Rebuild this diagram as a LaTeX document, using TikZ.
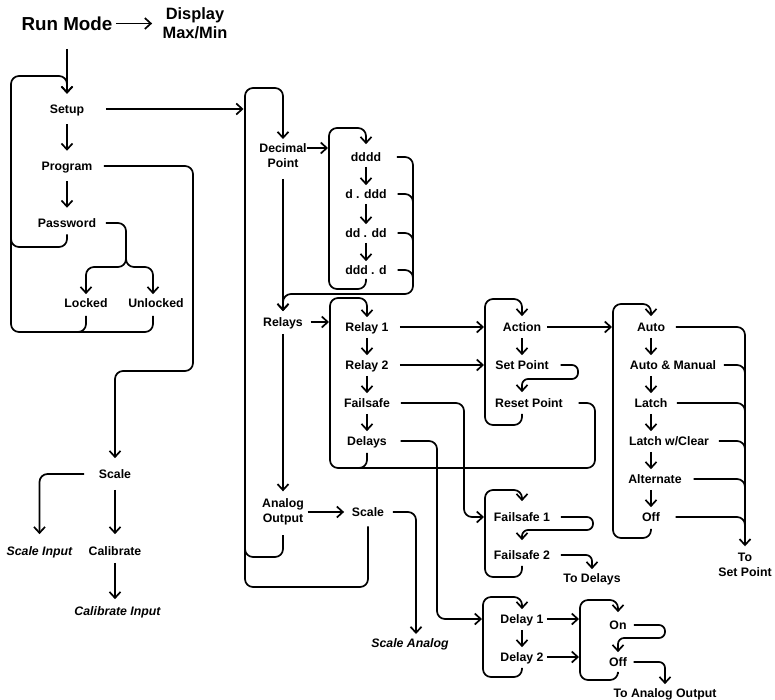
\documentclass[tikz,border=0pt]{standalone}
\usepackage{fontspec}
\setmainfont{Liberation Sans}
\usetikzlibrary{arrows.meta}
\begin{document}
\begin{tikzpicture}[x=1pt,y=-1pt,
  line width=1.7pt,
  rc/.style={rounded corners=8pt},
  rs/.style={rounded corners=6pt},
  arr/.style={-{Straight Barb[length=6pt,width=11pt]}},
  lb/.style={font=\fontsize{12.3}{15}\selectfont\bfseries, inner sep=0pt, text height=8.8pt, text depth=0pt},
  lbb/.style={font=\fontsize{12.3}{15}\selectfont\bfseries, inner sep=0pt, align=center},
  it/.style={font=\fontsize{12.3}{15}\selectfont\bfseries\itshape, inner sep=0pt, text height=8.8pt, text depth=0pt}]
\useasboundingbox (0,0) rectangle (775,699);

% box edge coordinates
\coordinate (bigL) at (245,88);
\coordinate (dpA) at (329,148);
\coordinate (rlL) at (330,298);
\coordinate (acL) at (485,299);
\coordinate (auL) at (613,304);
\coordinate (fsL) at (485,490);
\coordinate (dyL) at (483,597);
\coordinate (ooL) at (580,600);
\coordinate (saTip) at (416,634);

% nodes
\node[font=\fontsize{18.8}{20}\selectfont\bfseries, inner sep=0pt, text height=13.5pt, text depth=0pt] (run) at (67,23.5) {Run Mode};
\node[font=\fontsize{16.4}{19}\selectfont\bfseries, inner sep=0pt, align=center] (disp) at (195,23.5) {Display\\Max/Min};
\node[lb] (setup) at (67,109) {Setup};
\node[lb] (program) at (67,166) {Program};
\node[lb] (password) at (67,223) {Password};
\node[lb] (locked) at (86,303) {Locked};
\node[lb] (unlocked) at (156,303) {Unlocked};
\node[lb] (scale1) at (115,474) {Scale};
\node[it] (scalein) at (39.5,551) {Scale Input};
\node[lb] (calib) at (115,551) {Calibrate};
\node[it] (calibin) at (117.5,611) {Calibrate Input};
\node[lbb] (decpt) at (283,155.5) {Decimal\\Point};
\node[lb] (f1) at (366,157) {dddd};
\node[lb] (f2) at (366,194) {d . ddd};
\node[lb] (f3) at (366,233) {dd . dd};
\node[lb] (f4) at (366,270) {ddd . d};
\node[lb] (relays) at (283,322) {Relays};
\node[lb] (relay1) at (367,327) {Relay 1};
\node[lb] (relay2) at (367,365) {Relay 2};
\node[lb] (failsafe) at (367,403) {Failsafe};
\node[lb] (delays) at (367,441) {Delays};
\node[lbb] (aout) at (283,512) {Analog\\Output};
\node[lb] (scale2) at (368,512) {Scale};
\node[it] (scalean) at (410,643) {Scale Analog};
\node[lb] (action) at (522,327) {Action};
\node[lb] (setpt) at (522,365) {Set Point};
\node[lb] (resetpt) at (529,403) {Reset Point};
\node[lb] (auto) at (651,327) {Auto};
\node[lb] (automan) at (673,365) {Auto \& Manual};
\node[lb] (latch) at (651,403) {Latch};
\node[lb] (latchwc) at (669,441) {Latch w/Clear};
\node[lb] (altern) at (655,479) {Alternate};
\node[lb] (off1) at (651,517) {Off};
\node[lbb] (toset) at (745,564.5) {To\\Set Point};
\node[lb] (fs1) at (522,517) {Failsafe 1};
\node[lb] (fs2) at (522,555) {Failsafe 2};
\node[lb] (todelays) at (592,578) {To Delays};
\node[lb] (delay1) at (522,619) {Delay 1};
\node[lb] (delay2) at (522,657) {Delay 2};
\node[lb] (on) at (618,625) {On};
\node[lb] (off2) at (618,662) {Off};
\node[lb] (toaout) at (665,693) {To Analog Output};

% top
\draw[arr, shorten <=2.6pt, shorten >=9.7pt] (run.east) -- (disp.west);
\draw[arr, shorten <=17.7pt, shorten >=10pt] (run.south) -- (setup.north);
\draw[arr, shorten <=10pt, shorten >=10pt] (setup.south) -- (program.north);
\draw[arr, shorten <=10pt, shorten >=10pt] (program.south) -- (password.north);
\draw[arr, rc, shorten <=6pt, shorten >=10pt] (password.south) -- (67,247) -- (11,247) -- (11,76) -- (67,76) -- (setup.north);
\draw[arr, rc, shorten >=3.6pt] (password.east) ++(9,0) -- (126,223) -- (126,267) -- (86,267) -- (locked.north);
\draw[arr, rc, shorten >=3.6pt] (126,245) -- (126,267) -- (153,267) -- ([xshift=-3pt]unlocked.north);
\draw[rc] ([xshift=-3pt]unlocked.south) ++(0,7.6) -- (153,332) -- (11,332) -- (11,236);
\draw[rc] (locked.south) ++(0,7.6) -- (86,332) -- (70,332);

% program -> scale
\draw[arr, rc, shorten >=10.6pt] (program.east) ++(10.7,0) -- (193,166) -- (193,371) -- (115,371) -- (scale1.north);
\draw[arr, rc, shorten >=11.6pt] (scale1.west) ++(-14,0) -- (39.5,474) -- (scalein.north);
\draw[arr, shorten <=10.6pt, shorten >=11.6pt] (scale1.south) -- (calib.north);
\draw[arr, shorten <=6.6pt, shorten >=6.6pt] (calib.south) -- (calib.south |- calibin.north);

% setup -> big box
\draw[arr, shorten >=1.5pt] (setup.east) ++(21,0) -- (setup -| bigL);
\draw[arr, rc, shorten >=3.6pt] (aout.south) ++(0,9) -- (283,557) -- (245,557) -- (245,88) -- (283,88) -- (decpt.north);
\draw[rc] (scale2.south) ++(0,9) -- (368,587) -- (245,587) -- (245,540);

% decimal point
\draw[arr, shorten >=1pt] ([yshift=7.5pt]decpt.east) -- (dpA);
\draw[arr, rc, shorten >=7.6pt] (f4.south) ++(0,3.6) -- (366,289) -- (329,289) -- (329,128) -- (366,128) -- (f1.north);
\draw[arr, shorten <=4.6pt, shorten >=3.6pt] (f1.south) -- (f2.north);
\draw[arr, shorten <=4.6pt, shorten >=3.6pt] (f2.south) -- (f3.north);
\draw[arr, shorten <=4.6pt, shorten >=3.6pt] (f3.south) -- (f4.north);
\draw[arr, rc, shorten >=5.6pt] (f1.east) ++(15,0) -- (413,157) -- (413,294) -- (283,294) -- (relays.north);
\draw[rc] (f2.east) ++(10,0) -- (413,194) -- (413,210);
\draw[rc] (f3.east) ++(10,0) -- (413,233) -- (413,250);
\draw[rc] (f4.east) ++(10,0) -- (413,270) -- (413,285);
\draw[arr, shorten <=10.6pt, shorten >=5.6pt] (decpt.south) -- (relays.north);

% relays
\draw[arr, shorten <=7pt, shorten >=1pt] (relays.east) -- (relays -| rlL);
\draw[arr, shorten <=6.6pt, shorten >=6.6pt] (relays.south) -- (aout.north);
\draw[arr, rc, shorten >=4.6pt] (delays.south) ++(0,6.6) -- (367,468) -- (330,468) -- (330,298) -- (367,298) -- (relay1.north);
\draw[arr, shorten <=5.6pt, shorten >=4.6pt] (relay1.south) -- (relay2.north);
\draw[arr, shorten <=5.6pt, shorten >=4.6pt] (relay2.south) -- (failsafe.north);
\draw[arr, shorten <=5.6pt, shorten >=4.6pt] (failsafe.south) -- (delays.north);
\draw[rc] (resetpt.east) ++(15,0) -- (595,403) -- (595,468) -- (345,468);
\draw[arr, shorten >=1pt] (relay1.east) ++(10.5,0) -- (relay1 -| acL);
\draw[arr, shorten >=1pt] (relay2.east) ++(10.5,0) -- (relay2 -| acL);
\draw[arr, rc, shorten >=1pt] (failsafe.east) ++(10,0) -- (464,403) -- (464,517) -- (fs1 -| fsL);
\draw[arr, rc, shorten >=1pt] (delays.east) ++(13,0) -- (437,441) -- (437,619) -- (delay1 -| dyL);

% action box
\draw[arr, rc, shorten >=5.6pt] (action |- resetpt.south) ++(0,5.6) -- (522,425) -- (485,425) -- (485,299) -- (522,299) -- (action.north);
\draw[arr, shorten <=5.6pt, shorten >=4.6pt] (action.south) -- (setpt.north);
\draw[arr, rs, shorten >=5.6pt] (setpt.east) ++(11,0) -- (578,365) -- (578,379) -- (522,379) -- (action |- resetpt.north);
\draw[arr, shorten <=5pt, shorten >=1pt] (action.east) -- (action -| auL);

% auto box
\draw[arr, rc, shorten >=5.6pt] (off1.south) ++(0,6.6) -- (651,538) -- (613,538) -- (613,304) -- (651,304) -- (auto.north);
\draw[arr, shorten <=5.6pt, shorten >=4.6pt] (auto.south) -- (auto |- automan.north);
\draw[arr, shorten <=5.6pt, shorten >=4.6pt] (latch |- automan.south) -- (latch.north);
\draw[arr, shorten <=5.6pt, shorten >=4.6pt] (latch.south) -- (latch |- latchwc.north);
\draw[arr, shorten <=5.6pt, shorten >=4.6pt] (latch |- latchwc.south) -- (latch |- altern.north);
\draw[arr, shorten <=5.6pt, shorten >=4.6pt] (off1 |- altern.south) -- (off1.north);
\draw[arr, rc, shorten >=5.6pt] (auto.east) ++(10,0) -- (745,327) -- (toset.north);
\draw[rc] (automan.east) ++(7,0) -- (745,365) -- (745,380);
\draw[rc] (latch.east) ++(8.6,0) -- (745,403) -- (745,418);
\draw[rc] (latchwc.east) ++(9,0) -- (745,441) -- (745,456);
\draw[rc] (altern.east) ++(11,0) -- (745,479) -- (745,494);
\draw[rc] (off1.east) ++(15,0) -- (745,517) -- (745,532);

% failsafe box
\draw[arr, rc, shorten >=10.6pt] (fs2.south) ++(0,5.6) -- (522,577) -- (485,577) -- (485,490) -- (522,490) -- (fs1.north);
\draw[arr, rs, shorten >=9.6pt] (fs1.east) ++(10,0) -- (593,517) -- (593,530) -- (522,530) -- (fs2.north);
\draw[arr, rs, shorten >=3.6pt] (fs2.east) ++(10,0) -- (592,555) -- (todelays.north);

% delay box
\draw[arr, rc, shorten >=4.6pt] (delay2.south) ++(0,5.6) -- (522,677) -- (483,677) -- (483,597) -- (522,597) -- (delay1.north);
\draw[arr, shorten <=5.6pt, shorten >=4.6pt] (delay1.south) -- (delay2.north);
\draw[arr, shorten <=2.5pt, shorten >=1pt] (delay1.east) -- (delay1 -| ooL);
\draw[arr, shorten <=2.5pt, shorten >=1pt] (delay2.east) -- (delay2 -| ooL);

% on/off box
\draw[arr, rc, shorten >=7.6pt] (off2.south) ++(0,6.6) -- (618,680) -- (580,680) -- (580,600) -- (618,600) -- (on.north);
\draw[arr, rs, shorten >=4.6pt] (on.east) ++(6.5,0) -- (665,625) -- (665,638) -- (618,638) -- (off2.north);
\draw[arr, rs, shorten >=3.6pt] (off2.east) ++(6,0) -- (665,662) -- (toaout.north);

% analog output
\draw[arr, shorten <=3pt, shorten >=7pt] (aout.east) -- (scale2.west);
\draw[arr, rc] (scale2.east) ++(8,0) -- (416,512) -- (saTip);
\end{tikzpicture}
\end{document}
